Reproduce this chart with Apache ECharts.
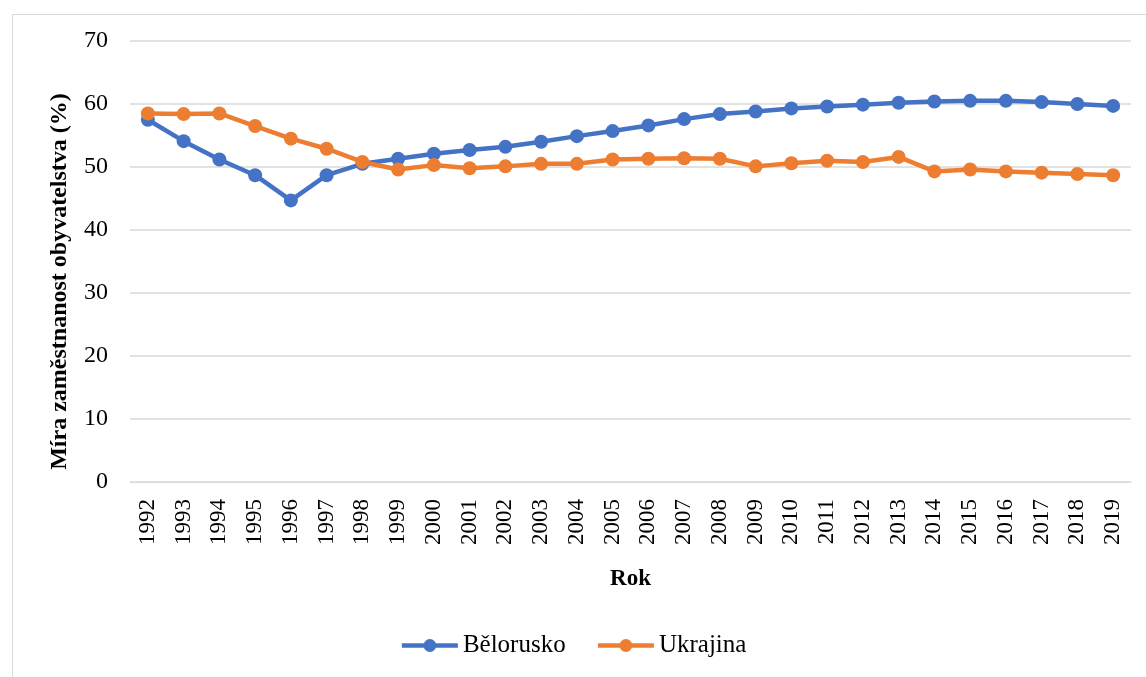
<!DOCTYPE html>
<html>
<head>
<meta charset="utf-8">
<script src="https://cdn.jsdelivr.net/npm/echarts@6/dist/echarts.min.js"></script>
<style>
  html, body { margin: 0; padding: 0; background: #fff; }
  #chart { width: 1146px; height: 677px; }
</style>
</head>
<body>
<div id="chart"></div>
<script>
const years = ["1992", "1993", "1994", "1995", "1996", "1997", "1998", "1999", "2000", "2001",
  "2002", "2003", "2004", "2005", "2006", "2007", "2008", "2009", "2010", "2011",
  "2012", "2013", "2014", "2015", "2016", "2017", "2018", "2019"];

const belorusko = [57.5, 54.1, 51.2, 48.7, 44.7, 48.7, 50.5, 51.3, 52.1, 52.7,
  53.2, 54.0, 54.9, 55.7, 56.6, 57.6, 58.4, 58.8, 59.3, 59.6,
  59.9, 60.2, 60.4, 60.5, 60.5, 60.3, 60.0, 59.7];

const ukrajina = [58.5, 58.4, 58.5, 56.5, 54.5, 52.9, 50.8, 49.6, 50.3, 49.8,
  50.1, 50.5, 50.5, 51.2, 51.3, 51.4, 51.3, 50.1, 50.6, 51.0,
  50.8, 51.6, 49.3, 49.6, 49.3, 49.1, 48.9, 48.7];

const font = "'Liberation Serif', 'Times New Roman', serif";

const chart = echarts.init(document.getElementById("chart"), null, { renderer: "canvas" });

function lineSeries(name, data, color) {
  return {
    name: name,
    type: "line",
    data: data,
    symbol: "circle",
    symbolSize: 14,
    showAllSymbol: true,
    lineStyle: { width: 4.5, color: color },
    itemStyle: { color: color },
    animation: false
  };
}

chart.setOption({
  backgroundColor: "#fff",
  textStyle: { fontFamily: font },
  graphic: [{
    type: "rect",
    left: 10,
    top: 12,
    shape: { width: 1150, height: 680 },
    style: { fill: "none", stroke: "#d9d9d9", lineWidth: 1 },
    silent: true
  }],
  grid: { left: 130, right: 15, top: 41, bottom: 195 },
  legend: {
    bottom: 14,
    left: "center",
    itemWidth: 56,
    itemHeight: 16,
    itemGap: 30,
    lineStyle: { width: 4.5 },
    textStyle: { fontFamily: font, fontSize: 25, color: "#000" },
    data: ["Bělorusko", "Ukrajina"]
  },
  xAxis: {
    type: "category",
    data: years,
    boundaryGap: true,
    name: "Rok",
    nameLocation: "middle",
    nameGap: 86,
    nameTextStyle: { fontFamily: font, fontSize: 23, fontWeight: "bold", color: "#000" },
    axisLine: { lineStyle: { color: "#d9d9d9", width: 1 } },
    axisTick: { show: false },
    axisLabel: { rotate: 90, fontFamily: font, fontSize: 23, color: "#000", margin: 17, interval: 0 }
  },
  yAxis: {
    type: "value",
    min: 0,
    max: 70,
    interval: 10,
    name: "Míra zaměstnanost obyvatelstva (%)",
    nameLocation: "middle",
    nameGap: 58,
    nameTextStyle: { fontFamily: font, fontSize: 24, fontWeight: "bold", color: "#000", padding: [0, 40, 0, 0] },
    axisLine: { show: false },
    axisTick: { show: false },
    axisLabel: { fontFamily: font, fontSize: 24, color: "#000", margin: 22 },
    splitLine: { lineStyle: { color: "#d9d9d9", width: 1.5 } }
  },
  series: [
    lineSeries("Bělorusko", belorusko, "#4472C4"),
    lineSeries("Ukrajina", ukrajina, "#ED7D31")
  ]
});
</script>
</body>
</html>
